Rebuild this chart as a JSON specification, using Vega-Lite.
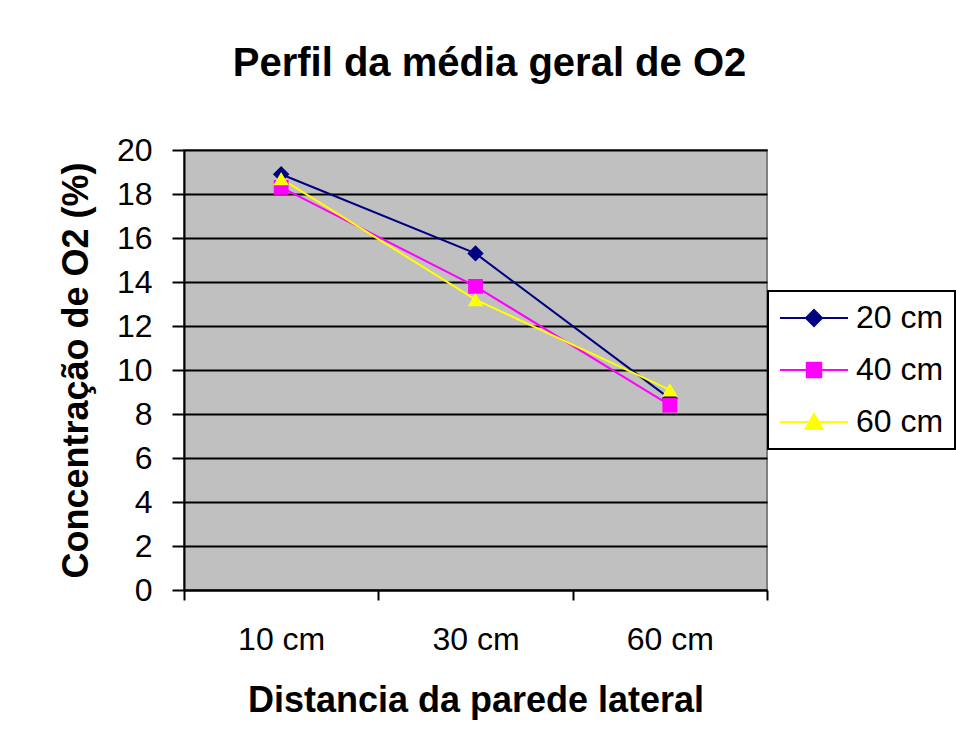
{
  "$schema": "https://vega.github.io/schema/vega-lite/v6.json",
  "width": 583,
  "height": 440,
  "autosize": {"type": "none"},
  "padding": {"left": 184, "top": 150, "right": 189, "bottom": 145},
  "background": "white",
  "title": {
    "text": "Perfil da média geral de O2",
    "fontSize": 40,
    "font": "Liberation Sans",
    "fontWeight": "bold",
    "anchor": "middle",
    "frame": "group",
    "dx": 14,
    "offset": 50,
    "color": "black"
  },
  "config": {
    "view": {"fill": "#C0C0C0", "stroke": "#808080", "strokeWidth": 2},
    "font": "Liberation Sans"
  },
  "data": {
    "values": [
      {"dist": "10 cm", "prof": "20 cm", "o2": 18.9},
      {"dist": "30 cm", "prof": "20 cm", "o2": 15.3},
      {"dist": "60 cm", "prof": "20 cm", "o2": 8.7},
      {"dist": "10 cm", "prof": "40 cm", "o2": 18.3},
      {"dist": "30 cm", "prof": "40 cm", "o2": 13.8},
      {"dist": "60 cm", "prof": "40 cm", "o2": 8.4},
      {"dist": "10 cm", "prof": "60 cm", "o2": 18.7},
      {"dist": "30 cm", "prof": "60 cm", "o2": 13.2},
      {"dist": "60 cm", "prof": "60 cm", "o2": 9.1}
    ]
  },
  "encoding": {
    "x": {
      "field": "dist",
      "type": "nominal",
      "bandPosition": 0.5,
      "sort": ["10 cm", "30 cm", "60 cm"],
      "scale": {"type": "band", "paddingInner": 0, "paddingOuter": 0},
      "axis": {
        "title": "Distancia da parede lateral",
        "titleFontSize": 36,
        "titleFontWeight": "bold",
        "titleColor": "black",
        "titlePadding": 28,
        "labelFontSize": 32,
        "labelColor": "black",
        "labelAngle": 0,
        "labelPadding": 24,
        "tickBand": "extent",
        "tickSize": 10,
        "tickWidth": 2,
        "tickColor": "black",
        "domainColor": "black",
        "domainWidth": 2,
        "grid": false
      }
    },
    "y": {
      "field": "o2",
      "type": "quantitative",
      "scale": {"domain": [0, 20], "nice": false, "zero": true},
      "axis": {
        "title": "Concentração de O2 (%)",
        "titleFontSize": 36,
        "titleFontWeight": "bold",
        "titleColor": "black",
        "titlePadding": 21,
        "values": [0, 2, 4, 6, 8, 10, 12, 14, 16, 18, 20],
        "labelFontSize": 32,
        "labelColor": "black",
        "labelPadding": 20,
        "tickSize": 12,
        "tickWidth": 2,
        "tickColor": "black",
        "domainColor": "black",
        "domainWidth": 2,
        "grid": true,
        "gridColor": "black",
        "gridWidth": 2,
        "gridOpacity": 1
      }
    },
    "color": {
      "field": "prof",
      "type": "nominal",
      "scale": {"domain": ["20 cm", "40 cm", "60 cm"], "range": ["#000080", "#FF00FF", "#FFFF00"]},
      "legend": {
        "title": null,
        "orient": "none",
        "legendX": 584,
        "legendY": 141,
        "padding": 11,
        "fillColor": "white",
        "strokeColor": "black",
        "labelFontSize": 32,
        "labelColor": "black",
        "labelOffset": 45,
        "symbolSize": 400,
        "rowPadding": 20,
        "encoding": {
          "legend": {"strokeWidth": {"value": 2}},
          "symbols": {
            "shape": {"value": {"expr": "datum.value === '20 cm' ? 'M-1.5,0H5.3M1.9,-0.8L2.7,0L1.9,0.8L1.1,0Z' : datum.value === '40 cm' ? 'M-1.5,0H5.3M1.18,-0.72H2.62V0.72H1.18Z' : 'M-1.5,0H5.3M1.9,-0.8L2.75,0.7L1.05,0.7Z'"}},
            "fill": {"value": {"expr": "scale('color', datum.value)"}},
            "stroke": {"value": {"expr": "scale('color', datum.value)"}},
            "strokeWidth": {"value": 2},
            "opacity": {"value": 1},
            "fillOpacity": {"value": 1}
          }
        }
      }
    }
  },
  "layer": [
    {"mark": {"type": "line", "strokeWidth": 2}},
    {
      "transform": [{"filter": "datum.prof === '20 cm'"}],
      "mark": {"type": "point", "filled": true, "opacity": 1, "size": 270, "shape": "diamond"}
    },
    {
      "transform": [{"filter": "datum.prof === '40 cm'"}],
      "mark": {"type": "point", "filled": true, "opacity": 1, "size": 220, "shape": "square"}
    },
    {
      "transform": [{"filter": "datum.prof === '60 cm'"}],
      "mark": {"type": "point", "filled": true, "opacity": 1, "size": 240, "shape": "triangle-up"}
    }
  ]
}
